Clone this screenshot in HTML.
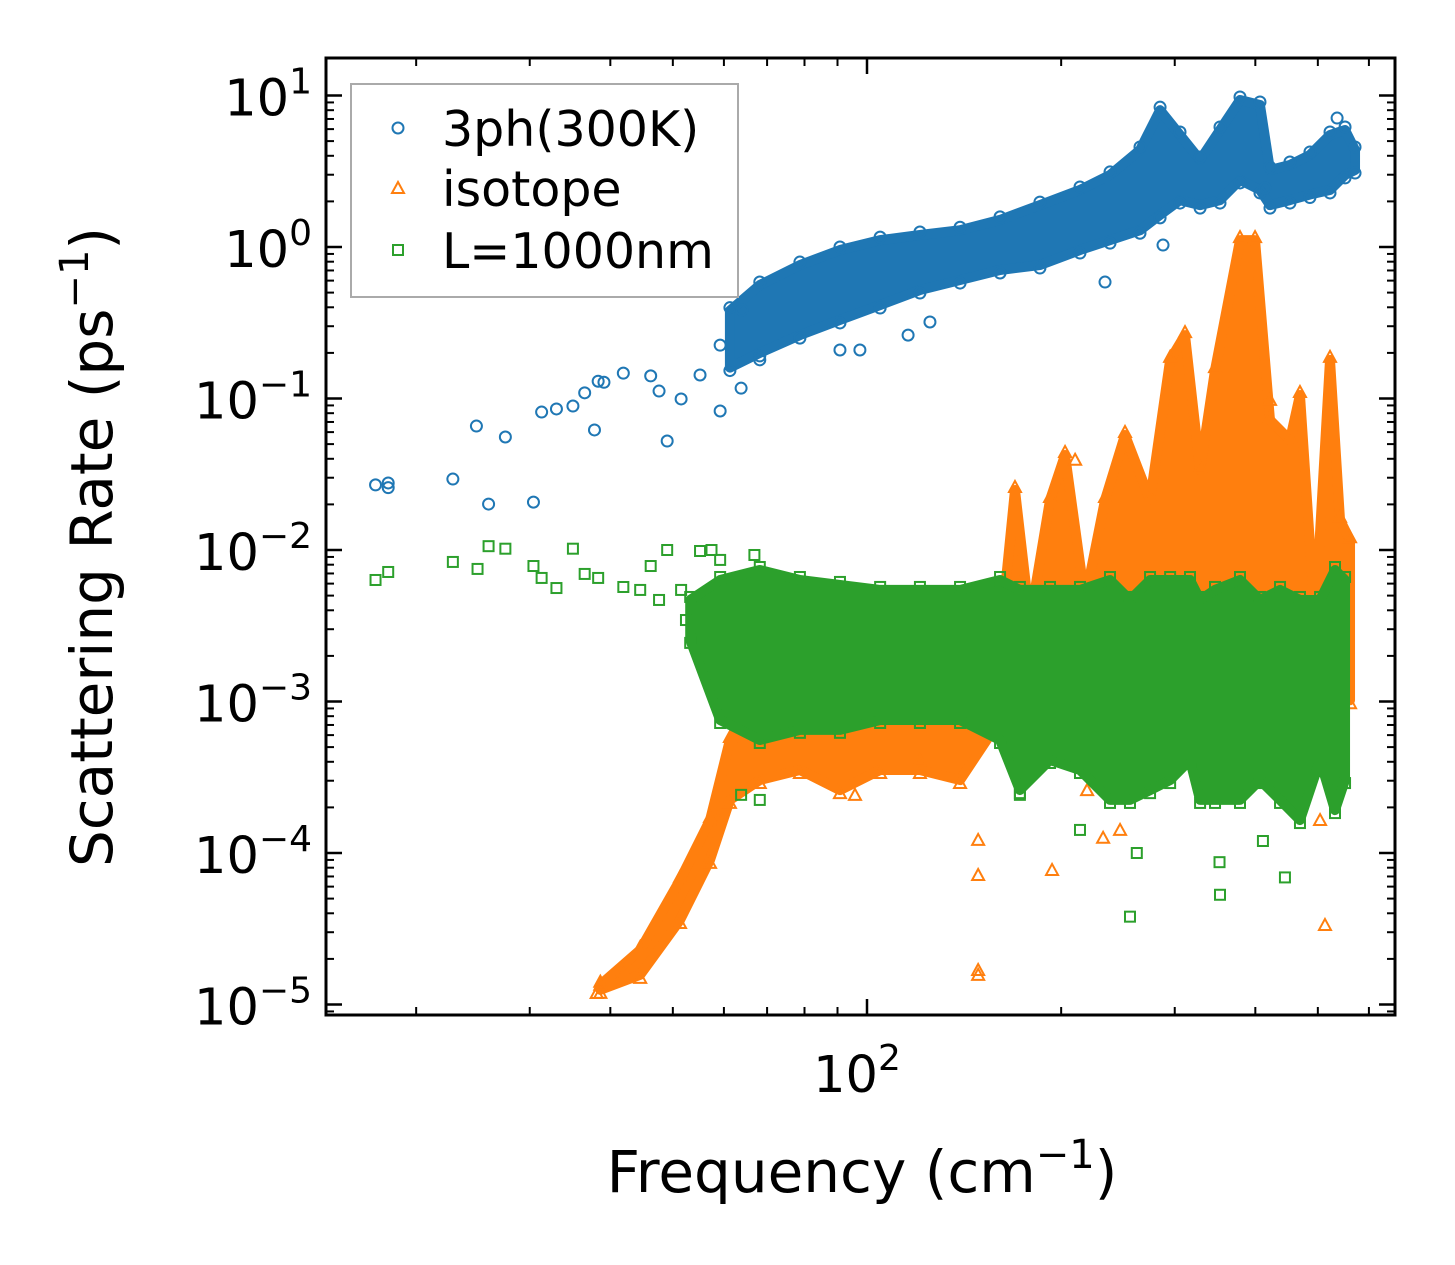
<!DOCTYPE html>
<html><head><meta charset="utf-8">
<style>
html,body{margin:0;padding:0;background:#fff;}
svg{display:block;font-family:"DejaVu Sans","Liberation Sans",sans-serif;}
</style></head>
<body>
<svg id="chart" width="1455" height="1265" viewBox="0 0 1455 1265" xmlns="http://www.w3.org/2000/svg">
<defs><clipPath id="plotclip"><rect x="326" y="58" width="1069" height="957"/></clipPath></defs>
<rect width="1455" height="1265" fill="#fff"/>
<g id="marks" clip-path="url(#plotclip)"></g>
<g id="axes"></g>
<g id="legend">
  <rect x="351" y="84" width="387" height="213" fill="#fff" fill-opacity="0.85" stroke="#aaa" stroke-width="2"/>
  <g>
    <circle cx="398" cy="128" r="5.5" fill="none" stroke="#1f77b4" stroke-width="2"/>
    <text x="442" y="146" font-size="49" fill="#000">3ph(300K)</text>
  </g>
  <g>
    <polygon points="398,182 404,193 392,193" fill="none" stroke="#ff7f0e" stroke-width="2"/>
    <text x="442" y="206" font-size="49" fill="#000">isotope</text>
  </g>
  <g>
    <rect x="393" y="245" width="10" height="10" fill="none" stroke="#2ca02c" stroke-width="2"/>
    <text x="442" y="268" font-size="49" fill="#000">L=1000nm</text>
  </g>
</g>
<text x="862" y="1192" font-size="58" text-anchor="middle">Frequency (cm<tspan dy="-24" font-size="40">−1</tspan><tspan dy="24">)</tspan></text>
<text transform="translate(112,547) rotate(-90)" font-size="58" text-anchor="middle">Scattering Rate (ps<tspan dy="-24" font-size="40">−1</tspan><tspan dy="24">)</tspan></text>
</svg>
<script>
// ---- data ----
const blueBandFreq = [61.3,68.2,78.7,90.8,104.8,120.8,139.4,160.8,185.4,213.9,238.1,265.0,284.7,305.7,328.4,352.6,378.7,406.7,421.5,452.6,486.1,522.2,551,571];
const blueBandHigh = [0.38,0.561,0.76,0.955,1.11,1.2,1.29,1.51,1.89,2.38,2.99,4.37,8.0,5.49,3.75,5.92,9.34,8.66,3.22,3.48,4.05,5.49,5.92,4.37];
const blueBandLow  = [0.16,0.2,0.262,0.33,0.414,0.52,0.605,0.705,0.76,0.955,1.11,1.29,1.63,2.04,1.89,2.04,2.77,2.38,1.89,2.04,2.22,2.38,2.99,3.22];
const bluePtsFreq = [17.3,18.1,18.1,22.8,24.8,25.9,27.5,30.4,31.3,33.0,35.0,36.5,38.3,39.1,37.8,41.9,46.2,47.6,49.0,51.5,55.1,59.2,59.2,63.8,64,68.2,90.8,97.5,115.8,125.2,233.9,287.7,414,535.6];
const bluePtsRate = [0.0269,0.0277,0.0258,0.0294,0.0658,0.0201,0.0557,0.0207,0.0814,0.0853,0.0892,0.109,0.13,0.128,0.062,0.147,0.141,0.112,0.0524,0.0993,0.143,0.0827,0.225,0.117,0.384,0.18,0.209,0.209,0.262,0.32,0.587,1.03,2.45,7.1];

const isoBandFreq = [38.6,44.5,51.3,57.1,61.3,68.2,78.7,90.8,104.8,120.8,139.4,160.8,169.6,178.9,192.2,202.8,217.8,233.9,251.2,274.7,295.1,311.2,328.4,346.4,378.7,399.6,421.5,452.6,469.1,495.0,522.2,541.2,560.9];
const isoBandHigh = [1.35e-5,2.29e-5,6.64e-5,1.65e-4,5.57e-4,1.02e-3,8.8e-4,1.02e-3,7.55e-4,8.8e-4,1.02e-3,2.55e-3,0.0249,3.45e-3,0.0214,0.0424,4.68e-3,0.0214,0.0574,0.0214,0.18,0.262,0.0337,0.154,1.11,1.11,0.0721,0.0532,0.1055,3.45e-3,0.18,0.0158,0.0116];
const isoBandLow  = [1.25e-5,1.57e-5,3.61e-5,9.0e-5,2.24e-4,3.03e-4,3.53e-4,2.6e-4,3.53e-4,3.53e-4,3.03e-4,7.55e-4,1.02e-3,7.55e-4,1.02e-3,1.02e-3,7.55e-4,1.02e-3,1.02e-3,1.02e-3,1.02e-3,1.02e-3,1.02e-3,1.02e-3,1.39e-3,2.19e-3,1.02e-3,1.02e-3,1.02e-3,1.02e-3,2.19e-3,1.02e-3,1.02e-3];
const isoPtsFreq = [38.6,38.1,41.9,148.7,148.7,148.7,148.7,193.6,219.4,232.3,246.8,512.9,504,95.8,120.8,210.2,421.5];
const isoPtsRate = [1.35e-5,1.19e-5,1.69e-5,1.22e-4,7.16e-5,1.69e-5,1.57e-5,7.73e-5,2.6e-4,1.26e-4,1.42e-4,3.35e-5,1.65e-4,2.42e-4,4.1e-4,0.0394,0.098];

const bdyBandFreq = [53.2,59.2,68.2,78.7,90.8,104.8,120.8,139.4,160.8,172.6,192.2,213.9,238.1,255.7,274.7,295.1,316.8,328.4,346.4,378.7,406.7,436.9,469.1,504.0,531.6,551];
const bdyBandHigh = [4.68e-3,6.34e-3,7.38e-3,6.34e-3,5.88e-3,5.45e-3,5.45e-3,5.45e-3,6.34e-3,5.45e-3,5.45e-3,5.45e-3,6.34e-3,4.68e-3,6.34e-3,6.34e-3,6.34e-3,4.68e-3,5.45e-3,6.34e-3,4.68e-3,5.45e-3,4.68e-3,4.68e-3,7.38e-3,6.34e-3];
const bdyBandLow  = [2.55e-3,7.55e-4,5.57e-4,6.5e-4,6.5e-4,7.55e-4,7.55e-4,7.55e-4,5.57e-4,2.6e-4,4.11e-4,3.53e-4,2.24e-4,2.24e-4,2.6e-4,3.03e-4,4.11e-4,2.24e-4,2.24e-4,2.24e-4,3.03e-4,2.24e-4,1.65e-4,4.11e-4,1.92e-4,3.03e-4];
const bdyPtsFreq = [17.3,18.1,22.8,24.9,25.9,27.5,30.4,31.3,33.0,35.0,36.5,38.3,41.9,44.5,46.2,47.6,49.0,51.5,55.1,57.4,59.2,66.9,52.4,55.1,63.8,68.2,255.7,352.6,352,444.6,411,262,213.9,172.6];
const bdyPtsRate = [0.00634,0.00716,0.00834,0.0075,0.0106,0.0102,0.00784,0.00654,0.00561,0.0102,0.00695,0.00654,0.0057,0.00545,0.00784,0.00468,0.01,0.00545,0.00985,0.01,0.0086,0.00927,0.00345,0.00255,2.42e-4,2.24e-4,3.8e-5,5.3e-5,8.7e-5,6.9e-5,1.2e-4,1e-4,1.42e-4,2.42e-4];

const yTickExp = [1,0,-1,-2,-3,-4,-5];
const xTickExp = [2];

// ---- axes ----
const X0 = 326, X1 = 1395, Y0 = 58, Y1 = 1015;
const xPx = f => 867 + (Math.log10(f) - 2) * 645;
const yPx = v => 247 - Math.log10(v) * 151.5;
const NS = 'http://www.w3.org/2000/svg';
function mk(tag, attrs, parent) {
  const e = document.createElementNS(NS, tag);
  for (const k in attrs) e.setAttribute(k, attrs[k]);
  parent.appendChild(e);
  return e;
}
const marks = document.getElementById('marks');
const axes = document.getElementById('axes');

function circleAt(g, x, y, c) { return mk('circle', {cx:x, cy:y, r:5.5, fill:'none', stroke:c, 'stroke-width':2}, g); }
function triAt(g, x, y, c) { return mk('polygon', {points:`${x},${y-6} ${x+6},${y+5} ${x-6},${y+5}`, fill:'none', stroke:c, 'stroke-width':2}, g); }
function sqAt(g, x, y, c) { return mk('rect', {x:x-5, y:y-5, width:10, height:10, fill:'none', stroke:c, 'stroke-width':2}, g); }

function drawSeries(name, color, bf, bh, bl, pf, pr, markerFn) {
  const g = mk('g', {}, marks);
  
  
  const top = bf.map((f, i) => `${xPx(f)},${yPx(bh[i])}`);
  const bot = bf.map((f, i) => `${xPx(f)},${yPx(bl[i])}`).reverse();
  const band = mk('polygon', {points: top.concat(bot).join(' '), fill: color, stroke: color, 'stroke-width': 10, 'stroke-linejoin': 'round'}, g);
  
  
  bf.forEach((f, i) => {
    const a = markerFn(g, xPx(f), yPx(bh[i]) - 3, color);
    
    
    const b = markerFn(g, xPx(f), yPx(bl[i]) + 3, color);
    
    
  });
  pf.forEach((f, i) => {
    const p = markerFn(g, xPx(f), yPx(pr[i]), color);
    
    
  });
}
drawSeries('3ph', '#1f77b4', blueBandFreq, blueBandHigh, blueBandLow, bluePtsFreq, bluePtsRate, circleAt);
drawSeries('isotope', '#ff7f0e', isoBandFreq, isoBandHigh, isoBandLow, isoPtsFreq, isoPtsRate, triAt);
drawSeries('boundary', '#2ca02c', bdyBandFreq, bdyBandHigh, bdyBandLow, bdyPtsFreq, bdyPtsRate, sqAt);

// frame
const frame = mk('rect', {x:X0, y:Y0, width:X1-X0, height:Y1-Y0, fill:'none', stroke:'#000', 'stroke-width':3}, axes);



// y ticks
yTickExp.forEach(e => {
  const y = yPx(Math.pow(10, e));
  mk('line', {x1:X0, x2:X0+16, y1:y, y2:y, stroke:'#000', 'stroke-width':2.5}, axes);
  mk('line', {x1:X1, x2:X1-16, y1:y, y2:y, stroke:'#000', 'stroke-width':2.5}, axes);
  const t = mk('text', {x:312, y:y+20, 'font-size':51, 'text-anchor':'end'}, axes);
  
  
  const exp = e < 0 ? '−' + (-e) : String(e);
  t.innerHTML = `10<tspan dy="-22" font-size="36">${exp}</tspan>`;
});
for (let e = -6; e <= 1; e++) {
  for (let m = 2; m <= 9; m++) {
    const y = yPx(m * Math.pow(10, e));
    if (y < Y0 || y > Y1) continue;
    mk('line', {x1:X0, x2:X0+8, y1:y, y2:y, stroke:'#000', 'stroke-width':2}, axes);
    mk('line', {x1:X1, x2:X1-8, y1:y, y2:y, stroke:'#000', 'stroke-width':2}, axes);
  }
}
// x ticks
xTickExp.forEach(e => {
  const x = xPx(Math.pow(10, e));
  mk('line', {x1:x, x2:x, y1:Y1, y2:Y1-16, stroke:'#000', 'stroke-width':2.5}, axes);
  mk('line', {x1:x, x2:x, y1:Y0, y2:Y0+16, stroke:'#000', 'stroke-width':2.5}, axes);
  const t = mk('text', {x:x-10, y:1092, 'font-size':51, 'text-anchor':'middle'}, axes);
  
  
  t.innerHTML = `10<tspan dy="-22" font-size="36">${e}</tspan>`;
});
for (let e = 1; e <= 2; e++) {
  for (let m = 2; m <= 9; m++) {
    const x = xPx(m * Math.pow(10, e));
    if (x < X0 || x > X1) continue;
    mk('line', {x1:x, x2:x, y1:Y1, y2:Y1-8, stroke:'#000', 'stroke-width':2}, axes);
    mk('line', {x1:x, x2:x, y1:Y0, y2:Y0+8, stroke:'#000', 'stroke-width':2}, axes);
  }
}
</script>
</body></html>
